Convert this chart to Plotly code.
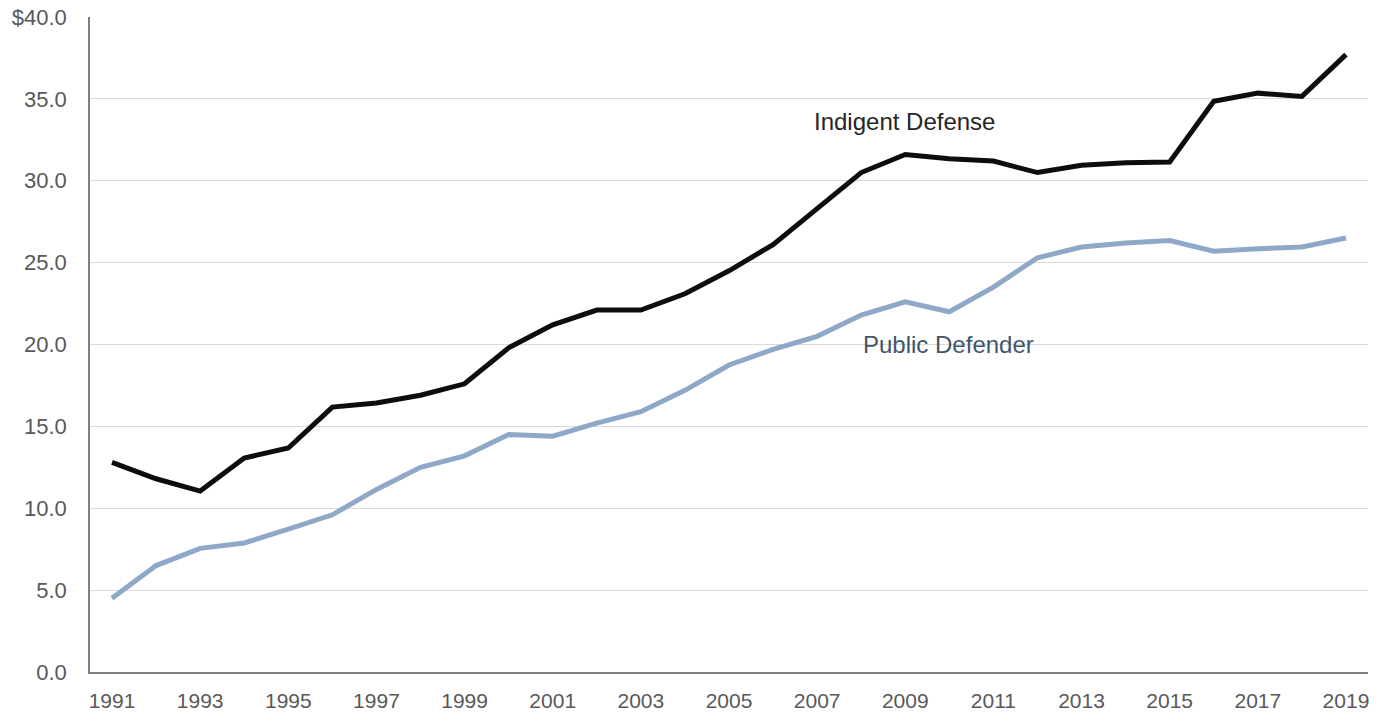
import plotly.graph_objects as go

years = list(range(1991, 2020))
indigent_defense = [12.8, 11.8, 11.05, 13.07, 13.68, 16.18, 16.43, 16.9, 17.6, 19.8,
                    21.2, 22.1, 22.1, 23.1, 24.5, 26.1, 28.3, 30.5, 31.6, 31.35,
                    31.2, 30.5, 30.95, 31.1, 31.15, 34.85, 35.35, 35.15, 37.7]
public_defender = [4.5, 6.5, 7.55, 7.88, 8.73, 9.6, 11.15, 12.5, 13.2, 14.5,
                   14.4, 15.2, 15.9, 17.2, 18.75, 19.7, 20.5, 21.8, 22.6, 22.0,
                   23.5, 25.3, 25.95, 26.2, 26.35, 25.7, 25.85, 25.95, 26.5]
y_ticks = [0, 5, 10, 15, 20, 25, 30, 35, 40]
y_tick_labels = ["0.0", "5.0", "10.0", "15.0", "20.0", "25.0", "30.0", "35.0", "$40.0"]
x_ticks = list(range(1991, 2020, 2))

FONT = "Liberation Sans, Arial"

fig = go.Figure()
fig.add_trace(go.Scatter(x=years, y=public_defender, mode="lines",
                         line=dict(color="#8FA8C8", width=5), name="Public Defender"))
fig.add_trace(go.Scatter(x=years, y=indigent_defense, mode="lines",
                         line=dict(color="#0D0D0D", width=5), name="Indigent Defense"))

fig.add_annotation(x=2008.98, y=33.6, text="Indigent Defense", showarrow=False,
                   font=dict(family=FONT, size=24, color="#262626"))
fig.add_annotation(x=2009.99, y=19.97, text="Public Defender", showarrow=False,
                   font=dict(family=FONT, size=24, color="#44546A"))

fig.update_layout(
    width=1387, height=715,
    margin=dict(l=90, r=19, t=17, b=43, autoexpand=False),
    paper_bgcolor="white", plot_bgcolor="white",
    showlegend=False,
    font=dict(family=FONT, size=22, color="#595959"),
)
fig.update_xaxes(range=[1990.5, 2019.5], tickvals=x_ticks, ticktext=[str(v) for v in x_ticks],
                 showgrid=False, showline=True, linecolor="#808080", linewidth=1.5,
                 ticks="", zeroline=False, ticklabelstandoff=9, ticklabeloverflow="allow",
                 automargin=False,
                 tickfont=dict(family=FONT, size=21, color="#595959"))
fig.update_yaxes(range=[0, 40], tickvals=y_ticks, ticktext=y_tick_labels,
                 showgrid=True, gridcolor="#D9D9D9", gridwidth=1,
                 showline=True, linecolor="#808080", linewidth=1.5,
                 ticks="", zeroline=False, ticklabelstandoff=17, ticklabeloverflow="allow",
                 automargin=False,
                 tickfont=dict(family=FONT, size=22, color="#595959"))

fig.write_html("out.html", config={"displayModeBar": False},
               post_script="document.body.style.margin='0';document.body.style.overflow='hidden';")
